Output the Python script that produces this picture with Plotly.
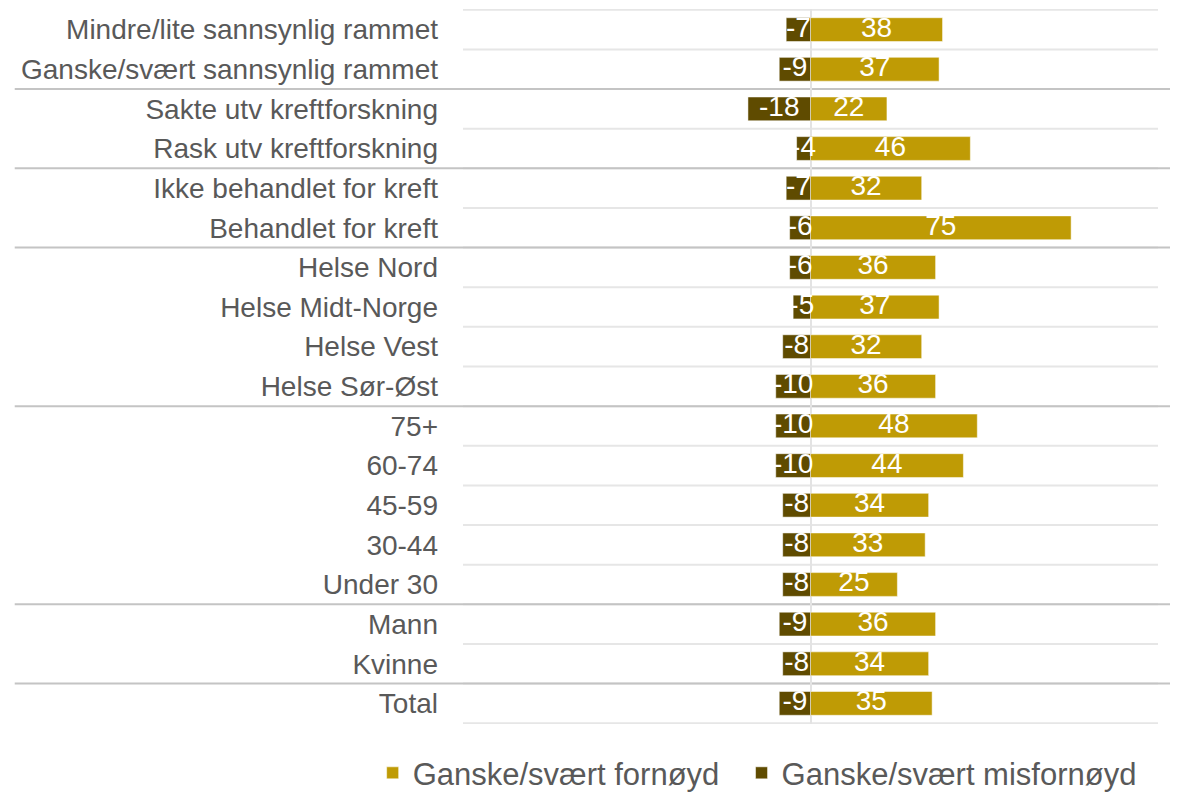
import plotly.graph_objects as go

categories = [
    "Mindre/lite sannsynlig rammet",
    "Ganske/svært sannsynlig rammet",
    "Sakte utv kreftforskning",
    "Rask utv kreftforskning",
    "Ikke behandlet for kreft",
    "Behandlet for kreft",
    "Helse Nord",
    "Helse Midt-Norge",
    "Helse Vest",
    "Helse Sør-Øst",
    "75+",
    "60-74",
    "45-59",
    "30-44",
    "Under 30",
    "Mann",
    "Kvinne",
    "Total",
]
fornoyd = [38, 37, 22, 46, 32, 75, 36, 37, 32, 36, 48, 44, 34, 33, 25, 36, 34, 35]
misfornoyd = [-7, -9, -18, -4, -7, -6, -6, -5, -8, -10, -10, -10, -8, -8, -8, -9, -8, -9]
group_sizes = [2, 2, 2, 4, 5, 2, 1]
series_names = ["Ganske/svært fornøyd", "Ganske/svært misfornøyd"]

GOLD = "#BF9B05"
DARK = "#5F4B00"
FONT = "Arial, Liberation Sans, sans-serif"
NBSP = "\u00a0"

fig = go.Figure()
fig.add_trace(go.Bar(
    y=categories, x=fornoyd, orientation="h", name=series_names[0] + NBSP * 2,
    marker=dict(color=GOLD, line=dict(color="rgba(255,255,255,0.5)", width=1)),
    width=0.6, hoverinfo="skip",
))
fig.add_trace(go.Bar(
    y=categories, x=misfornoyd, orientation="h", name=series_names[1],
    marker=dict(color=DARK, line=dict(color="rgba(255,255,255,0.5)", width=1)),
    width=0.6, hoverinfo="skip",
))
for vals in (fornoyd, misfornoyd):
    fig.add_trace(go.Scatter(
        y=categories, x=[v / 2 for v in vals], mode="text",
        text=[str(v) for v in vals], textposition="middle center",
        textfont=dict(color="white", size=28, family=FONT),
        showlegend=False, cliponaxis=False, hoverinfo="skip",
    ))

n = len(categories)
shapes = []
for i in range(n + 1):
    shapes.append(dict(type="line", xref="paper", yref="y", x0=0, x1=1,
                       y0=i - 0.5, y1=i - 0.5, layer="below",
                       line=dict(color="#E6E6E6", width=2)))
pos = 0
for g in group_sizes[:-1]:
    pos += g
    shapes.append(dict(type="line", xref="paper", yref="y", x0=-0.645, x1=1.03,
                       y0=pos - 0.5, y1=pos - 0.5, layer="below",
                       line=dict(color="#C4C4C4", width=2)))

fig.update_layout(
    width=1170, height=785,
    margin=dict(l=455, r=20, t=1, b=69, autoexpand=False),
    barmode="relative",
    plot_bgcolor="white", paper_bgcolor="white",
    font=dict(family=FONT, color="#595959"),
    shapes=shapes,
    xaxis=dict(range=[-100, 100], showgrid=False, showticklabels=False,
               zeroline=True, zerolinecolor="#E3E3E3", zerolinewidth=2,
               fixedrange=True),
    yaxis=dict(categoryorder="array", categoryarray=categories,
               range=[n - 0.48, -0.52], showgrid=False, zeroline=False,
               ticks="", tickfont=dict(size=28, color="#595959", family=FONT),
               ticklabelstandoff=24, automargin=False),
    legend=dict(orientation="h", xref="paper", x=-0.13, xanchor="left",
                yref="paper", y=-0.031, yanchor="top",
                font=dict(size=31, color="#595959", family=FONT),
                itemwidth=30, traceorder="normal"),
    showlegend=True,
)

fig.write_html("out.html")
